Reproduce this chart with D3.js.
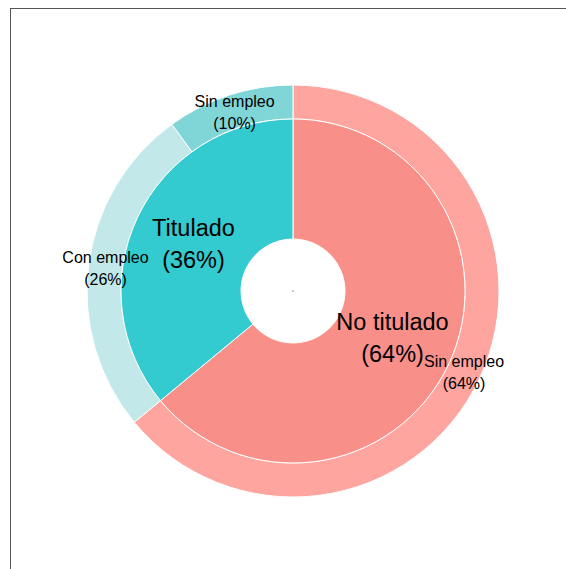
<!DOCTYPE html>
<html>
<head>
<meta charset="utf-8">
<script src="https://cdn.jsdelivr.net/npm/d3@7"></script>
<style>
  body { margin: 0; background: #fff; }
  svg { font-family: "Liberation Sans", Arial, sans-serif; }
</style>
</head>
<body>
<div id="chart"></div>
<script>
// Inner ring: estudios
const innerLabels = ["No titulado", "Titulado"];
const innerValues = [64, 36];
const innerColors = ["#f98f89", "#33cbcf"];

// Outer ring: situación laboral
const outerLabels = ["Sin empleo", "Con empleo", "Sin empleo"];
const outerValues = [64, 26, 10];
const outerColors = ["#fda59e", "#c2e8ea", "#80d5d7"];

const width = 566;
const height = 569;
const cx = 293, cy = 291;

const svg = d3.select("#chart")
    .append("svg")
    .attr("width", width)
    .attr("height", height);

// Frame
svg.append("rect")
    .attr("x", 10.5)
    .attr("y", 8.5)
    .attr("width", 700)
    .attr("height", 700)
    .attr("fill", "none")
    .attr("stroke", "#555")
    .attr("stroke-width", 1);

const g = svg.append("g")
    .attr("transform", `translate(${cx}, ${cy})`);

const pie = d3.pie().sort(null).value(d => d);

const innerArc = d3.arc().innerRadius(52).outerRadius(172);
const outerArc = d3.arc().innerRadius(172).outerRadius(206);

const innerData = pie(innerValues);
const outerData = pie(outerValues);

// Outer ring
g.selectAll(".outer")
    .data(outerData)
    .enter()
    .append("path")
    .attr("class", "outer")
    .attr("d", outerArc)
    .attr("fill", (d, i) => outerColors[i])
    .attr("stroke", "#fff")
    .attr("stroke-width", 1);

// Inner ring
g.selectAll(".inner")
    .data(innerData)
    .enter()
    .append("path")
    .attr("class", "inner")
    .attr("d", innerArc)
    .attr("fill", (d, i) => innerColors[i])
    .attr("stroke", "#fff")
    .attr("stroke-width", 1);

// Tiny center dot
g.append("rect")
    .attr("x", -0.5)
    .attr("y", -0.5)
    .attr("width", 1)
    .attr("height", 1)
    .attr("fill", "#333");

// Inner labels
const innerLabelArc = d3.arc().innerRadius(110).outerRadius(110);
innerData.forEach((d, i) => {
    const [x, y] = innerLabelArc.centroid(d);
    const t = g.append("text")
        .attr("text-anchor", "middle")
        .attr("fill", "#000")
        .style("font-size", "23.5px");
    t.append("tspan").attr("x", x).attr("y", y - 8).text(innerLabels[i]);
    t.append("tspan").attr("x", x).attr("y", y + 24).text(`(${innerValues[i]}%)`);
});

// Outer labels
const outerLabelArc = d3.arc().innerRadius(189).outerRadius(189);
outerData.forEach((d, i) => {
    const [x, y] = outerLabelArc.centroid(d);
    const t = g.append("text")
        .attr("text-anchor", "middle")
        .attr("fill", "#000")
        .style("font-size", "16px");
    t.append("tspan").attr("x", x).attr("y", y - 4).text(outerLabels[i]);
    t.append("tspan").attr("x", x).attr("y", y + 18).text(`(${outerValues[i]}%)`);
});
</script>
</body>
</html>
